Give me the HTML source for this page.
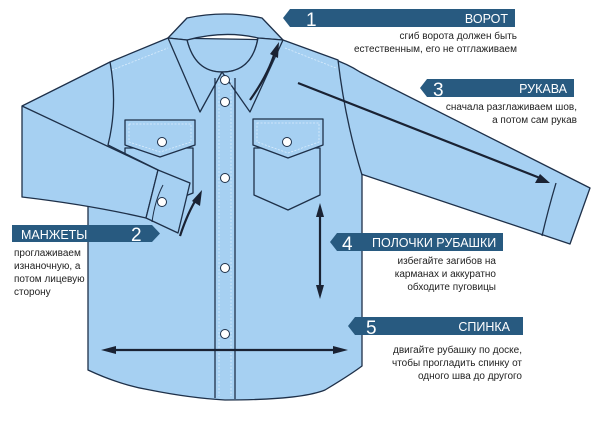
<!DOCTYPE html>
<html><head><meta charset="utf-8"><style>
html,body{margin:0;padding:0;background:#fff}
svg{display:block}
text{font-family:"Liberation Sans",sans-serif}
</style></head><body>
<svg width="600" height="425" viewBox="0 0 600 425" xmlns="http://www.w3.org/2000/svg">
<g stroke="#1e3049" stroke-width="1.3" fill="#a6d0f2" stroke-linejoin="round">
<!-- right sleeve -->
<path d="M330,58 Q348,64 360,72 L590,188 L570,244 L355,172 Z"/>
<path d="M556,183 Q548,210 542,236" fill="none"/>
<!-- body -->
<path d="M88,130 L88,370 Q120,385 150,390 Q190,398 225,400 Q300,400 325,390 Q350,375 362,366 L362,175 Q345,120 338,60 L283,40 L168,38 L110,62 Z"/>
<!-- collar band -->
<path d="M168,38 L187,18 Q225,10 262,18 L283,40 L258,38 Q225,30 187,40 Z"/>
<path d="M187,40 Q195,72 222,72 Q252,72 258,38" fill="none"/>
<!-- collar points -->
<path d="M168,38 L200,112 L222,72 Q195,72 187,40 Z"/>
<path d="M283,40 L250,112 L222,72 Q252,72 258,38 Z"/>
<!-- placket -->
<path d="M215,78 L215,398 M235,78 L235,399" fill="none"/>
<!-- pockets -->
<path d="M125,148 L125,193 L157,207 L193,193 L193,148 Z"/>
<path d="M125,120 L195,120 L195,145 L160,157 L125,145 Z"/>
<path d="M254,148 L254,195 L288,210 L320,195 L320,148 Z"/>
<path d="M253,119 L323,119 L323,145 L288,158 L253,145 Z"/>
<!-- left sleeve -->
<path d="M22,106 L110,62 Q118,105 108,145 L158,170 L146,218 Q90,205 22,197 Z"/>
<path d="M22,106 L158,170" fill="none"/>
<!-- cuff -->
<path d="M158,170 L190,183 L178,233 L146,218 Z"/>
<path d="M163,185 Q155,200 152,222" fill="none" stroke-width="1"/>
</g>
<g stroke="#e8f4ff" stroke-width="0.8" fill="none" stroke-dasharray="2,1.5" opacity="0.8">
<path d="M129,124 L191,124 L191,142 L160,152 L129,142 Z"/>
<path d="M257,123 L319,123 L319,142 L288,153 L257,142 Z"/>
<path d="M112,70 L168,48 M285,48 L336,68 M219,80 L219,396 M231,80 L231,396"/>
</g>
<g fill="#fff" stroke="#1e3049" stroke-width="1">
<circle cx="225" cy="80" r="4.5"/><circle cx="225" cy="102" r="4.5"/><circle cx="225" cy="178" r="4.5"/>
<circle cx="225" cy="268" r="4.5"/><circle cx="225" cy="334" r="4.5"/>
<circle cx="162" cy="142" r="4.5"/><circle cx="287" cy="142" r="4.5"/><circle cx="162" cy="202" r="4.5"/>
</g>
<!-- arrows -->
<g stroke="#1a2233" stroke-width="2.2" fill="none">
<path d="M250,100 Q268,75 275,52"/>
<path d="M180,236 Q188,212 197,198"/>
<path d="M298,83 L540,178"/>
<path d="M320,212 L320,290"/>
<path d="M110,350 L338,350"/>
</g>
<g fill="#1a2233">
<path d="M279,42 L278,58 L270,54 Z"/>
<path d="M202,190 L200,206 L192,201 Z"/>
<path d="M550,183 L535,183 L540,174 Z"/>
<path d="M320,203 L324,217 L316,217 Z"/>
<path d="M320,299 L324,285 L316,285 Z"/>
<path d="M101,350 L116,346 L116,354 Z"/>
<path d="M348,350 L333,346 L333,354 Z"/>
</g>
<!-- label bars -->
<g fill="#285a80">
<path d="M290,9 L515,9 L515,27 L290,27 L283,18 Z"/>
<path d="M427,79 L574,79 L574,97 L427,97 L420,88 Z"/>
<path d="M12,225 L152,225 L160,233.5 L152,242 L12,242 Z"/>
<path d="M337,233 L503,233 L503,251 L337,251 L330,242 Z"/>
<path d="M355,317 L523,317 L523,335 L355,335 L348,326 Z"/>
</g>
<g fill="#fff">
<text x="306" y="26" font-size="19">1</text>
<text x="508" y="23" font-size="12.5" text-anchor="end">ВОРОТ</text>
<text x="433" y="96" font-size="19">3</text>
<text x="567" y="93" font-size="12.5" text-anchor="end">РУКАВА</text>
<text x="21" y="239" font-size="12.5">МАНЖЕТЫ</text>
<text x="131" y="241" font-size="19">2</text>
<text x="342" y="250" font-size="19">4</text>
<text x="372" y="247" font-size="12.5">ПОЛОЧКИ РУБАШКИ</text>
<text x="366" y="334" font-size="19">5</text>
<text x="510" y="331" font-size="12.5" text-anchor="end">СПИНКА</text>
</g>
<g fill="#222" font-size="10">
<text x="517" y="39" text-anchor="end">сгиб ворота должен быть</text>
<text x="517" y="52" text-anchor="end">естественным, его не отглаживаем</text>
<text x="577" y="110" text-anchor="end">сначала разглаживаем шов,</text>
<text x="577" y="123" text-anchor="end">а потом сам рукав</text>
<text x="14" y="256">проглаживаем</text>
<text x="14" y="269">изнаночную, а</text>
<text x="14" y="282">потом лицевую</text>
<text x="14" y="295">сторону</text>
<text x="496" y="264" text-anchor="end">избегайте загибов на</text>
<text x="496" y="277" text-anchor="end">карманах и аккуратно</text>
<text x="496" y="290" text-anchor="end">обходите пуговицы</text>
<text x="522" y="353" text-anchor="end">двигайте рубашку по доске,</text>
<text x="522" y="366" text-anchor="end">чтобы прогладить спинку от</text>
<text x="522" y="379" text-anchor="end">одного шва до другого</text>
</g>
</svg>
</body></html>
